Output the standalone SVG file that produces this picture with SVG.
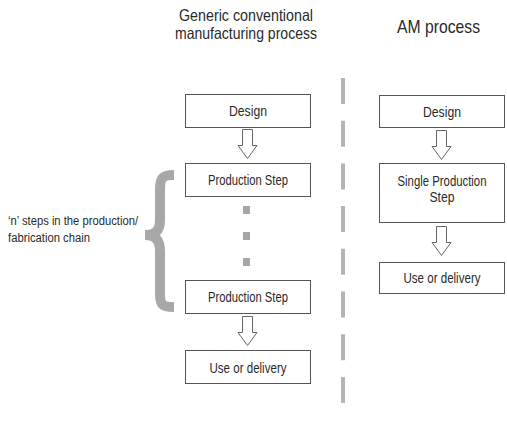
<svg xmlns="http://www.w3.org/2000/svg" width="507" height="424" viewBox="0 0 507 424">
<style>
text{font-family:"Liberation Sans",Arial,sans-serif;fill:#2a2a2a}
.box{fill:#fff;stroke:#555;stroke-width:1}
.lbl{font-size:14px;text-anchor:middle}
.arr{fill:#fff;stroke:#666;stroke-width:1;stroke-linejoin:miter}
.dot{fill:#a6a6a6}
</style>
<rect width="507" height="424" fill="#fff"/>
<g id="titles">
<text x="246" y="21" font-size="16.5" text-anchor="middle" textLength="134" lengthAdjust="spacingAndGlyphs">Generic conventional</text>
<text x="246" y="39" font-size="16.5" text-anchor="middle" textLength="142" lengthAdjust="spacingAndGlyphs">manufacturing process</text>
<text x="438.5" y="33" font-size="18.5" text-anchor="middle" textLength="83" lengthAdjust="spacingAndGlyphs">AM process</text>
</g>
<g id="divider">
<line x1="343" y1="78" x2="343" y2="404" stroke="#b4b4b6" stroke-width="4" stroke-dasharray="26 16.7"/>
</g>
<g id="brace-label">
<path d="M174,175 C162,175 160,178 160,190 L160,220 C160,231 155,235 145,235 C155,235 160,240 160,251 L160,293 C160,305 162,307 174,307" fill="none" stroke="#a8a8a8" stroke-width="10"/>
<text x="8" y="225" font-size="12.5" textLength="130" lengthAdjust="spacingAndGlyphs">‘n’ steps in the production/</text>
<text x="8" y="242" font-size="12.5" textLength="82" lengthAdjust="spacingAndGlyphs">fabrication chain</text>
</g>
<g id="conv-design">
<rect class="box" x="185.5" y="94.5" width="125" height="33"/>
<text class="lbl" x="248" y="116" textLength="38" lengthAdjust="spacingAndGlyphs">Design</text>
</g>
<g id="conv-step1">
<rect class="box" x="185.5" y="163.5" width="125" height="33"/>
<text class="lbl" x="248" y="185" textLength="80" lengthAdjust="spacingAndGlyphs">Production Step</text>
</g>
<g id="conv-dots">
<rect class="dot" x="243" y="206" width="7" height="8"/>
<rect class="dot" x="243" y="232" width="7" height="8"/>
<rect class="dot" x="243" y="258" width="7" height="8"/>
</g>
<g id="conv-step2">
<rect class="box" x="185.5" y="280.5" width="125" height="33"/>
<text class="lbl" x="248" y="302" textLength="80" lengthAdjust="spacingAndGlyphs">Production Step</text>
</g>
<g id="conv-use">
<rect class="box" x="185.5" y="350.5" width="125" height="33"/>
<text class="lbl" x="248" y="372.5" textLength="77" lengthAdjust="spacingAndGlyphs">Use or delivery</text>
</g>
<g id="am-design">
<rect class="box" x="379.5" y="95.5" width="125" height="32"/>
<text class="lbl" x="442" y="116.5" textLength="38" lengthAdjust="spacingAndGlyphs">Design</text>
</g>
<g id="am-step">
<rect class="box" x="379.5" y="163.5" width="125" height="59"/>
<text class="lbl" x="442" y="186" textLength="89" lengthAdjust="spacingAndGlyphs">Single Production</text>
<text class="lbl" x="442" y="202" textLength="25" lengthAdjust="spacingAndGlyphs">Step</text>
</g>
<g id="am-use">
<rect class="box" x="379.5" y="262.5" width="125" height="31"/>
<text class="lbl" x="442" y="283" textLength="77" lengthAdjust="spacingAndGlyphs">Use or delivery</text>
</g>
<g id="connectors">
<path class="arr" d="M242.5,129.5 H252.5 V145.5 H257 L247.5,158.5 L238,145.5 H242.5 Z"/>
<path class="arr" d="M242.5,316.5 H252.5 V332.5 H257 L247.5,345.5 L238,332.5 H242.5 Z"/>
<path class="arr" d="M436.5,130.5 H446.5 V146.5 H451 L441.5,159.5 L432,146.5 H436.5 Z"/>
<path class="arr" d="M436.5,226.5 H446.5 V242.5 H451 L441.5,255.5 L432,242.5 H436.5 Z"/>
</g>
</svg>
